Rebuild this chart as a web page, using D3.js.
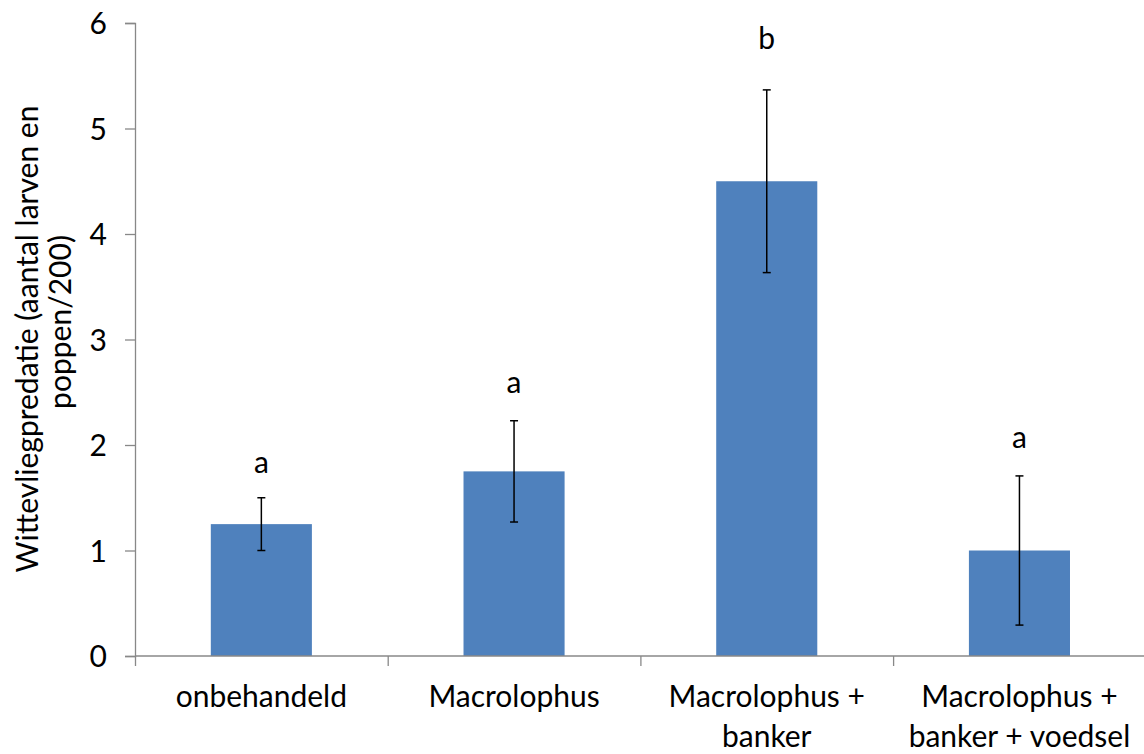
<!DOCTYPE html>
<html>
<head>
<meta charset="utf-8">
<script src="https://cdn.jsdelivr.net/npm/d3@7"></script>
<style>
  html, body { margin: 0; padding: 0; background: #fff; }
  text { font-family: Lato, "Open Sans", sans-serif; fill: #000; }
</style>
</head>
<body>
<svg id="chart" width="1144" height="754"></svg>
<script>
const categories = [["onbehandeld"], ["Macrolophus"], ["Macrolophus +", "banker"], ["Macrolophus +", "banker + voedsel"]];
const values = [1.25, 1.75, 4.5, 1.0];
const errors = [0.25, 0.48, 0.866, 0.707];
const letters = ["a", "a", "b", "a"];
const letterY = [1.735, 2.49, 5.75, 1.97];
const yTicks = [0, 1, 2, 3, 4, 5, 6];
const yLabelLines = ["Wittevliegpredatie (aantal larven en", "poppen/200)"];

(function () {
const svg = d3.select("#chart");
const mLeft = 135, mTop = 23, mBottom = 656;
const bandW = 252.7;
const mRight = mLeft + bandW * categories.length;

const x = d3.scaleBand().domain(d3.range(categories.length)).range([mLeft, mRight]).paddingInner(0.6).paddingOuter(0.3);
const y = d3.scaleLinear().domain([0, 6]).range([mBottom, mTop]);
const FS = 30;
const axisColor = "#888888";

// bars
svg.append("g").selectAll("rect").data(values).join("rect")
  .attr("x", (d, i) => x(i))
  .attr("width", x.bandwidth())
  .attr("y", d => y(d))
  .attr("height", d => y(0) - y(d))
  .attr("fill", "#4F81BD");

// y axis
const yAxis = svg.append("g").attr("transform", `translate(${mLeft},0)`)
  .call(d3.axisLeft(y).tickValues(yTicks).tickSize(10).tickPadding(18).tickFormat(d3.format("d")));
yAxis.select(".domain").attr("stroke", axisColor).attr("stroke-width", 1.3);
yAxis.selectAll(".tick line").attr("stroke", axisColor).attr("stroke-width", 1.3);
yAxis.selectAll(".tick text").style("font-size", FS + "px").style("font-family", "Lato, sans-serif").attr("fill", "#000").attr("dy", "0.36em");

// x axis
const xb = d3.scaleLinear().domain([0, categories.length]).range([mLeft, mRight]);
const xAxis = svg.append("g").attr("transform", `translate(0,${mBottom})`)
  .call(d3.axisBottom(xb).tickValues(d3.range(categories.length + 1)).tickSize(10).tickFormat(""));
xAxis.select(".domain").attr("stroke", axisColor).attr("stroke-width", 1.3).attr("d", `M${mLeft},0H${mRight}`);
xAxis.selectAll(".tick line").attr("stroke", axisColor).attr("stroke-width", 1.3);

// category labels
categories.forEach((lines, i) => {
  const cx = x(i) + x.bandwidth() / 2;
  const t = svg.append("text").attr("text-anchor", "middle").style("font-size", FS + "px");
  lines.forEach((l, j) => t.append("tspan").attr("x", cx).attr("y", 707 + j * 40).text(l));
});

// error bars
const eb = svg.append("g").attr("stroke", "#000").attr("stroke-width", 1.5);
values.forEach((v, i) => {
  const cx = x(i) + x.bandwidth() / 2;
  eb.append("line").attr("x1", cx).attr("x2", cx).attr("y1", y(v + errors[i])).attr("y2", y(v - errors[i]));
  eb.append("line").attr("x1", cx - 4).attr("x2", cx + 4).attr("y1", y(v + errors[i])).attr("y2", y(v + errors[i]));
  eb.append("line").attr("x1", cx - 4).attr("x2", cx + 4).attr("y1", y(v - errors[i])).attr("y2", y(v - errors[i]));
});

// significance letters
svg.append("g").selectAll("text").data(letters).join("text")
  .attr("text-anchor", "middle").style("font-size", FS + "px")
  .attr("x", (d, i) => x(i) + x.bandwidth() / 2)
  .attr("y", (d, i) => y(letterY[i]))
  .text(d => d);

// y axis title
const centers = [339, 322];
const baselines = [38, 71];
yLabelLines.forEach((l, j) => {
  svg.append("text").attr("text-anchor", "middle").style("font-size", FS + "px")
    .attr("transform", `translate(${baselines[j]},${centers[j]}) rotate(-90)`).text(l);
});
})();
</script>
</body>
</html>
